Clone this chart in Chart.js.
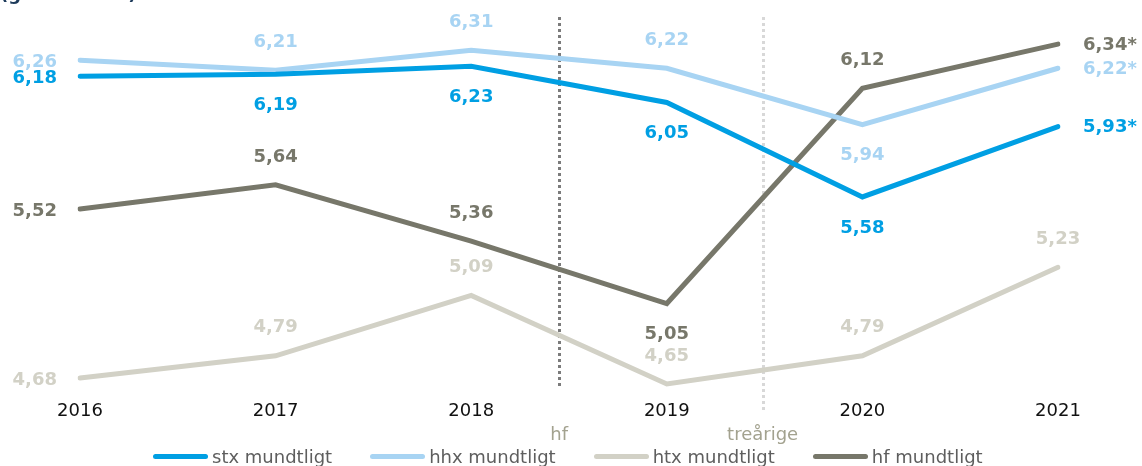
<!DOCTYPE html>
<html>
<head>
<meta charset="utf-8">
<script src="https://cdn.jsdelivr.net/npm/chart.js@4.4.1/dist/chart.umd.min.js"></script>
<style>
  html, body { margin: 0; padding: 0; background: #fff; }
  #wrap { position: relative; width: 1142px; height: 466px; overflow: hidden; }
  #subtitle { position: absolute; left: 0; top: -17px; font: bold 18px "DejaVu Sans", Verdana, sans-serif; color: #1d3a5a; white-space: nowrap; }
  #legend { position: absolute; left: 153px; top: 445px; height: 22px; display: flex; align-items: center; font: 18px "DejaVu Sans", Verdana, sans-serif; color: #5e5e5e; white-space: nowrap; }
  #legend .item { display: flex; align-items: center; margin-right: 38px; }
  #legend .swatch { width: 55px; height: 5px; border-radius: 3px; margin-right: 4px; }
</style>
</head>
<body>
<div id="wrap">
  <div id="subtitle">(gennemsnit)</div>
  <canvas id="chart" width="1142" height="466"></canvas>
  <div id="legend"></div>
</div>
<script>
const years = ['2016', '2017', '2018', '2019', '2020', '2021'];

const stxValues = [6.18, 6.19, 6.23, 6.05, 5.58, 5.93];
const hhxValues = [6.26, 6.21, 6.31, 6.22, 5.94, 6.22];
const htxValues = [4.68, 4.79, 5.09, 4.65, 4.79, 5.23];
const hfValues = [5.52, 5.64, 5.36, 5.05, 6.12, 6.34];

// 2021 er foreløbige tal (markeret med *), dog ikke for htx
const provisional = [false, false, false, false, false, true];

// skillelinjer mellem årene
const dividerNames = ['hf', 'treårige'];
const dividerAt = [2.45, 3.49];

const FONT = '"DejaVu Sans", Verdana, sans-serif';

function fmt(v, i, star) {
  return v.toFixed(2).replace('.', ',') + (star && provisional[i] ? '*' : '');
}

function makeSet(label, values, color, pos, star) {
  return {
    label: label,
    data: values,
    borderColor: color,
    backgroundColor: color,
    borderWidth: 5,
    borderCapStyle: 'round',
    borderJoinStyle: 'miter',
    pointRadius: 0,
    pointHoverRadius: 0,
    tension: 0,
    labelPos: pos,
    star: star
  };
}

const datasets = [
  makeSet('stx mundtligt', stxValues, '#009fe3', ['left', 'below', 'below', 'below', 'below', 'right'], true),
  makeSet('hhx mundtligt', hhxValues, '#a8d4f3', ['left', 'above', 'above', 'above', 'below', 'right'], true),
  makeSet('htx mundtligt', htxValues, '#d2d1c6', ['left', 'above', 'above', 'above', 'above', 'above'], false),
  makeSet('hf mundtligt', hfValues, '#77776a', ['left', 'above', 'above', 'below', 'above', 'right'], true)
];

const dividers = {
  id: 'dividers',
  beforeDatasetsDraw(chart) {
    const ctx = chart.ctx;
    const x = chart.scales.x;
    const styles = [
      { color: '#7b7b7b', bottom: 388 },
      { color: '#d8d8d8', bottom: 412 }
    ];
    ctx.save();
    ctx.lineWidth = 3;
    ctx.setLineDash([3, 3]);
    dividerAt.forEach((d, i) => {
      const px = Math.round(x.getPixelForValue(d)) + 0.5;
      ctx.strokeStyle = styles[i].color;
      ctx.beginPath();
      ctx.moveTo(px, chart.chartArea.top);
      ctx.lineTo(px, styles[i].bottom);
      ctx.stroke();
    });
    ctx.setLineDash([]);
    ctx.fillStyle = '#a3a28f';
    ctx.font = '18px ' + FONT;
    ctx.textAlign = 'center';
    ctx.textBaseline = 'middle';
    dividerAt.forEach((d, i) => {
      ctx.fillText(dividerNames[i], x.getPixelForValue(d), 435);
    });
    ctx.restore();
  }
};

const valueLabels = {
  id: 'valueLabels',
  afterDatasetsDraw(chart) {
    const ctx = chart.ctx;
    ctx.save();
    ctx.font = 'bold 18px ' + FONT;
    ctx.textBaseline = 'middle';
    chart.data.datasets.forEach((ds, di) => {
      const meta = chart.getDatasetMeta(di);
      ctx.fillStyle = ds.borderColor;
      meta.data.forEach((pt, i) => {
        const txt = fmt(ds.data[i], i, ds.star);
        const pos = ds.labelPos[i];
        let tx = pt.x, ty = pt.y;
        if (pos === 'left') { ctx.textAlign = 'right'; tx -= 23; ty += 2; }
        else if (pos === 'right') { ctx.textAlign = 'left'; tx += 25; ty += 1; }
        else if (pos === 'above') { ctx.textAlign = 'center'; ty -= 28; }
        else { ctx.textAlign = 'center'; ty += 31; }
        ctx.fillText(txt, tx, ty);
      });
    });
    ctx.restore();
  }
};

const chart = new Chart(document.getElementById('chart'), {
  type: 'line',
  data: { labels: years, datasets: datasets },
  options: {
    responsive: false,
    animation: false,
    layout: { padding: { left: 80, right: 84, top: 17, bottom: 24 } },
    scales: {
      x: {
        offset: false,
        grid: { display: false, drawTicks: false },
        border: { display: false },
        ticks: { color: '#111', font: { family: FONT, size: 18 }, padding: 7, maxRotation: 0, autoSkip: false },
        afterFit(scale) { scale.height = 48; }
      },
      y: {
        display: false,
        min: 4.6,
        max: 6.475
      }
    },
    plugins: {
      legend: { display: false },
      tooltip: { enabled: false },
      title: { display: false }
    }
  },
  plugins: [dividers, valueLabels]
});

// legend som html, bygget fra datasættene
const legendEl = document.getElementById('legend');
chart.data.datasets.forEach(ds => {
  const item = document.createElement('div');
  item.className = 'item';
  const sw = document.createElement('span');
  sw.className = 'swatch';
  sw.style.background = ds.borderColor;
  item.appendChild(sw);
  item.appendChild(document.createTextNode(ds.label));
  legendEl.appendChild(item);
});
</script>
</body>
</html>
